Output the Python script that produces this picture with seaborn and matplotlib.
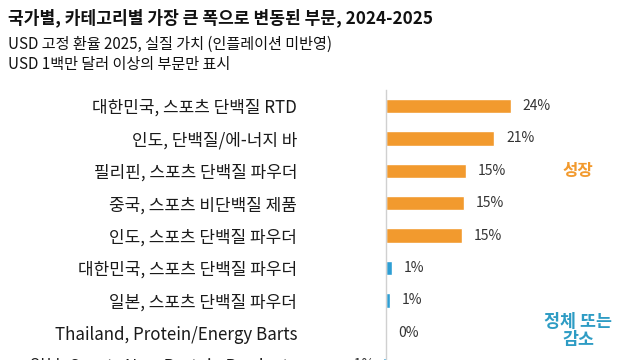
import matplotlib
matplotlib.use("Agg")
import matplotlib.pyplot as plt
import seaborn as sns
import pandas as pd

categories = [
    "대한민국, 스포츠 단백질 RTD",
    "인도, 단백질/에-너지 바",
    "필리핀, 스포츠 단백질 파우더",
    "중국, 스포츠 비단백질 제품",
    "인도, 스포츠 단백질 파우더",
    "대한민국, 스포츠 단백질 파우더",
    "일본, 스포츠 단백질 파우더",
    "Thailand, Protein/Energy Barts",
    "일본, Sports Non-Protein Products",
]
values = [24.0, 20.8, 15.4, 15.0, 14.6, 1.2, 0.8, 0.0, -0.6]
value_labels = ["24%", "21%", "15%", "15%", "15%", "1%", "1%", "0%", "-1%"]
groups = ["성장"] * 5 + ["정체 또는 감소"] * 4

title = "국가별, 카테고리별 가장 큰 폭으로 변동된 부문, 2024-2025"
subtitle1 = "USD 고정 환율 2025, 실질 가치 (인플레이션 미반영)"
subtitle2 = "USD 1백만 달러 이상의 부문만 표시"

ORANGE = "#F29A2E"
BLUE = "#2E9ED4"
TEAL = "#2E9CC4"

sns.set_theme(style="white")
plt.rcParams["font.family"] = ["Noto Sans CJK KR", "DejaVu Sans"]

df = pd.DataFrame({"cat": categories, "val": values, "grp": groups})

fig = plt.figure(figsize=(6.4, 3.6), dpi=100)
ax = fig.add_axes([370 / 640, -20 / 360, 270 / 640, 290 / 360])

sns.barplot(data=df, x="val", y="cat", hue="grp",
            palette={"성장": ORANGE, "정체 또는 감소": BLUE},
            width=0.45, legend=False, ax=ax, dodge=False, saturation=1)

px = 5.2
ax.set_xlim(-16 / px, 254 / px)
ax.set_ylim((380 - 106) / 32.4, -16 / 32.4)
ax.set_xlabel("")
ax.set_ylabel("")
ax.set_xticks([])
for s in ["top", "right", "bottom"]:
    ax.spines[s].set_visible(False)
ax.spines["left"].set_position(("data", 0))
ax.spines["left"].set_color("#d0d0d0")
ax.spines["left"].set_linewidth(1.0)
ax.tick_params(axis="y", length=0, pad=64, labelsize=12.2, labelcolor="#1a1a1a")

for i, (v, lab) in enumerate(zip(values, value_labels)):
    if v < 0:
        ax.text(v - 8 / px, i, lab, ha="right", va="center", fontsize=10, color="#333333")
    else:
        ax.text(v + 12 / px, i, lab, ha="left", va="center", fontsize=10, color="#333333")

fig.text(578 / 640, 1 - 171 / 360, "성장", ha="center", va="center",
         fontsize=12, fontweight="bold", color=ORANGE)
fig.text(578 / 640, 1 - 331 / 360, "정체 또는\n감소", ha="center", va="center",
         fontsize=12.5, fontweight="bold", color=TEAL, linespacing=0.95)

fig.text(8 / 640, 1 - 18 / 360, title, ha="left", va="center",
         fontsize=12.3, fontweight="bold", color="#111111")
fig.text(8 / 640, 1 - 44 / 360, subtitle1, ha="left", va="center",
         fontsize=10.9, color="#111111")
fig.text(8 / 640, 1 - 65 / 360, subtitle2, ha="left", va="center",
         fontsize=10.9, color="#111111")

fig.savefig("out.png", dpi=100)
